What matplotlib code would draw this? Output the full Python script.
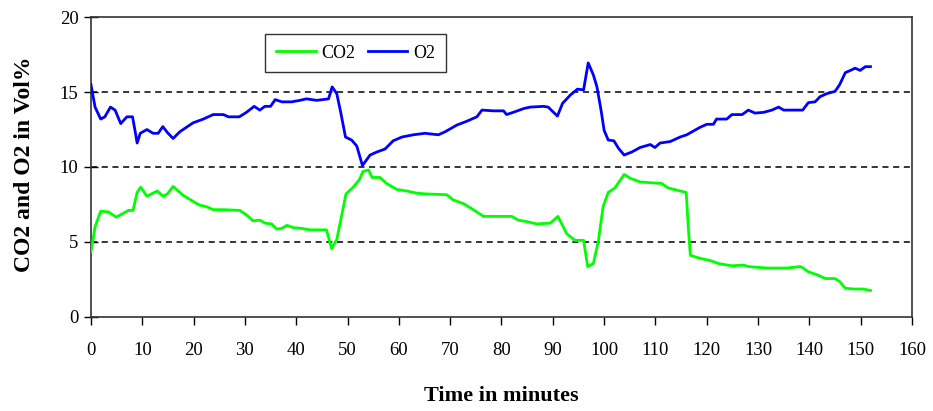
import matplotlib
matplotlib.use('Agg')
import matplotlib.pyplot as plt

# time (min) and O2 (Vol%)
t_o2 = [0, 0.8, 1.9, 2.7, 3.8, 4.7, 5.8, 7.0, 8.1, 8.6, 9.0, 9.6, 10.9, 12.1, 13.1, 14.0,
        14.9, 16.0, 17.3, 19.9, 21.9, 23.8, 25.8, 26.8, 28.9, 30.3, 31.8, 32.9, 33.9, 35.0,
        35.9, 37.2, 39.1, 40.7, 42.0, 44.0, 46.3, 47.0, 47.9, 48.7, 49.6, 50.8, 51.8, 52.9,
        54.4, 55.7, 57.3, 58.9, 60.6, 62.8, 65.1, 67.7, 69.0, 71.3, 73.2, 75.2, 76.2, 78.4,
        80.4, 81.0, 82.7, 84.3, 85.6, 88.2, 89.1, 90.9, 91.9, 93.4, 94.8, 96.0, 96.9, 97.9,
        98.6, 99.4, 100.0, 100.8, 101.9, 102.8, 103.9, 105.4, 107.0, 109.0, 109.9, 110.9,
        112.9, 114.8, 116.1, 117.4, 118.7, 120.0, 121.3, 121.9, 123.9, 124.9, 126.9, 128.1,
        129.4, 131.1, 132.7, 134.0, 135.0, 138.7, 139.8, 141.1, 142.1, 143.4, 145.0, 145.9,
        147.0, 148.0, 148.9, 149.9, 150.9, 151.9]
o2 = [15.5, 14.0, 13.2, 13.35, 14.0, 13.8, 12.9, 13.35, 13.35, 12.4, 11.6, 12.25, 12.5, 12.25,
      12.25, 12.7, 12.3, 11.9, 12.35, 12.95, 13.2, 13.5, 13.5, 13.35, 13.35, 13.65, 14.05, 13.8,
      14.05, 14.05, 14.5, 14.35, 14.35, 14.45, 14.55, 14.45, 14.55, 15.35, 14.9, 13.6, 12.0,
      11.8, 11.4, 10.1, 10.8, 11.0, 11.2, 11.75, 12.0, 12.15, 12.25, 12.15, 12.35, 12.8, 13.05,
      13.35, 13.8, 13.75, 13.75, 13.5, 13.7, 13.9, 14.0, 14.05, 14.0, 13.4, 14.25, 14.8, 15.2,
      15.15, 16.95, 16.15, 15.35, 13.8, 12.45, 11.8, 11.75, 11.25, 10.8, 11.0, 11.3, 11.5, 11.3,
      11.6, 11.7, 12.0, 12.15, 12.4, 12.65, 12.85, 12.85, 13.2, 13.2, 13.5, 13.5, 13.8, 13.6,
      13.65, 13.8, 14.0, 13.8, 13.8, 14.3, 14.35, 14.7, 14.9, 15.05, 15.5, 16.3, 16.45, 16.6,
      16.45, 16.7, 16.7]

# time (min) and CO2 (Vol%)
t_co2 = [0, 0.8, 1.9, 3.4, 4.9, 6.0, 7.3, 8.2, 9.0, 9.7, 10.9, 11.8, 12.9, 14.0, 14.9, 16.0,
         18.0, 19.9, 21.2, 22.5, 23.8, 25.8, 29.0, 30.3, 31.6, 32.9, 33.9, 35.2, 36.2, 37.2,
         38.2, 39.4, 41.0, 42.7, 45.9, 46.9, 47.9, 49.2, 49.7, 51.1, 52.3, 53.0, 54.1, 54.8,
         56.3, 57.6, 59.6, 61.5, 63.5, 65.4, 69.3, 70.6, 72.6, 74.5, 76.5, 78.4, 82.0, 83.3,
         84.9, 86.9, 89.5, 91.0, 92.7, 94.3, 96.0, 96.8, 97.9, 98.9, 99.8, 100.8, 102.1, 103.9,
         105.1, 107.0, 109.0, 111.2, 112.5, 114.2, 116.0, 116.4, 116.8, 118.7, 120.7, 122.3,
         124.9, 127.2, 128.1, 131.7, 135.6, 138.2, 138.8, 139.8, 141.5, 143.1, 145.0, 145.9,
         147.0, 148.6, 150.5, 151.9]
co2 = [4.35, 6.0, 7.05, 7.0, 6.65, 6.85, 7.1, 7.1, 8.3, 8.65, 8.05, 8.2, 8.4, 8.05, 8.2, 8.7,
       8.1, 7.7, 7.45, 7.35, 7.15, 7.15, 7.1, 6.8, 6.4, 6.45, 6.25, 6.2, 5.85, 5.9, 6.1, 5.95,
       5.9, 5.8, 5.8, 4.55, 5.15, 7.35, 8.2, 8.65, 9.15, 9.7, 9.8, 9.3, 9.3, 8.9, 8.5, 8.4, 8.25,
       8.2, 8.15, 7.8, 7.55, 7.15, 6.7, 6.7, 6.7, 6.45, 6.35, 6.2, 6.25, 6.7, 5.55, 5.1, 5.1,
       3.35, 3.55, 5.1, 7.35, 8.3, 8.6, 9.5, 9.25, 9.0, 8.95, 8.9, 8.6, 8.45, 8.3, 6.0, 4.1,
       3.9, 3.75, 3.55, 3.4, 3.45, 3.35, 3.25, 3.25, 3.35, 3.25, 3.0, 2.8, 2.55, 2.55, 2.35,
       1.9, 1.85, 1.85, 1.75]

x_ticks = list(range(0, 161, 10))
y_ticks = [0, 5, 10, 15, 20]

plt.rcParams['font.family'] = ['Liberation Serif', 'DejaVu Serif']

fig = plt.figure(figsize=(9.33, 4.11), dpi=100)
ax = fig.add_axes([0.0975, 0.2294, 0.88, 0.7286])

for y in [5, 10, 15]:
    ax.axhline(y, color='black', linestyle=(0, (4, 3)), linewidth=1.1, zorder=1)

ax.plot(t_co2, co2, color='#00ff00', linewidth=2, label='CO2', zorder=3)
ax.plot(t_o2, o2, color='#0000ff', linewidth=2, label='O2', zorder=3)

ax.set_xlim(0, 160)
ax.set_ylim(0, 20)
ax.set_xticks(x_ticks)
ax.set_yticks(y_ticks)
ax.tick_params(axis='x', direction='out', length=6, width=1, labelsize=13.5, pad=12)
ax.tick_params(axis='y', direction='inout', length=10, width=1, labelsize=13.5, pad=4)
for s in ax.spines.values():
    s.set_linewidth(1.2)
    s.set_color('#333333')

ax.set_xlabel('Time in minutes', fontsize=16, fontweight='bold', labelpad=20)
ax.set_ylabel('CO2 and O2 in Vol%', fontsize=17, fontweight='bold')
ax.yaxis.set_label_coords(-0.068, 0.51)

leg = ax.legend(loc='upper left', bbox_to_anchor=(0.212, 0.945), ncol=2, fontsize=13,
                frameon=True, fancybox=False, edgecolor='black', handlelength=2.2,
                columnspacing=0.7, handletextpad=0.3, borderpad=0.6, borderaxespad=0)
leg.get_frame().set_linewidth(1)

fig.savefig('out.png', dpi=100)
